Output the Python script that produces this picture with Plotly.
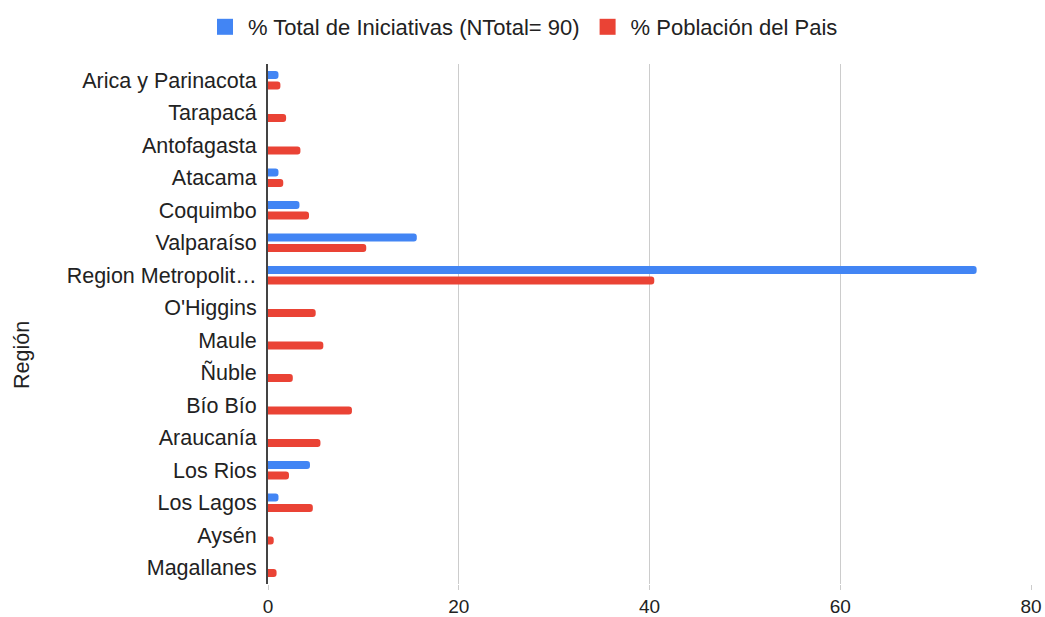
import plotly.graph_objects as go

regiones = ["Arica y Parinacota", "Tarapacá", "Antofagasta", "Atacama", "Coquimbo",
            "Valparaíso", "Region Metropolit…", "O'Higgins", "Maule", "Ñuble",
            "Bío Bío", "Araucanía", "Los Rios", "Los Lagos", "Aysén", "Magallanes"]
iniciativas = [1.1, 0, 0, 1.1, 3.3, 15.6, 74.3, 0, 0, 0, 0, 0, 4.4, 1.1, 0, 0]
poblacion = [1.3, 1.9, 3.4, 1.6, 4.3, 10.3, 40.5, 5.0, 5.8, 2.6, 8.8, 5.5, 2.2, 4.7, 0.6, 0.9]
x_ticks = [0, 20, 40, 60, 80]
series_names = ["% Total de Iniciativas (NTotal= 90)", "% Población del Pais"]

BLUE = "#4285F4"
RED = "#EA4335"
FS = 21.5

fig = go.Figure()
fig.add_trace(go.Bar(y=regiones, x=iniciativas, orientation="h",
                     name=series_names[0], showlegend=False,
                     marker=dict(color=BLUE, line=dict(width=0))))
fig.add_trace(go.Bar(y=regiones, x=poblacion, orientation="h",
                     name=series_names[1], showlegend=False,
                     marker=dict(color=RED, line=dict(width=0))))
# legend entries with larger square swatches
for nm, col in zip(series_names, [BLUE, RED]):
    fig.add_trace(go.Scatter(x=[None], y=[None], mode="markers", name=nm,
                             marker=dict(symbol="square", size=16, color=col),
                             hoverinfo="skip"))

fig.update_layout(
    width=1045, height=617,
    margin=dict(l=268, r=14, t=64, b=33),
    paper_bgcolor="white", plot_bgcolor="white",
    font=dict(family="Liberation Sans, Arial, sans-serif", size=FS, color="#222222"),
    barmode="group", bargap=0.35, bargroupgap=0.25, barcornerradius=4,
    showlegend=True,
    legend=dict(orientation="h", x=0.5, xanchor="center", xref="container",
                y=1 - 27 / 617, yanchor="middle", yref="container",
                itemsizing="trace", itemwidth=36,
                font=dict(size=22, color="#222222")),
    xaxis=dict(range=[0, 80], tickvals=x_ticks, showgrid=True, gridcolor="#cccccc",
               gridwidth=1, zeroline=False, showline=False, ticks="outside",
               ticklen=5, tickcolor="#cccccc", automargin=False,
               tickfont=dict(size=19, color="#222222")),
    yaxis=dict(categoryorder="array", categoryarray=regiones, autorange="reversed",
               showline=True, linecolor="#444444", linewidth=2, ticks="",
               showgrid=False, automargin=False, ticklabelstandoff=5,
               tickfont=dict(size=FS, color="#222222")),
    annotations=[dict(text="Región", textangle=-90, xref="paper", yref="paper",
                      x=-(268 - 22) / (1045 - 268 - 14), y=(584 - 355) / 520,
                      xanchor="center", yanchor="middle", showarrow=False,
                      font=dict(size=FS, color="#222222"))],
)

fig.write_html("out.html", config={"displayModeBar": False},
               post_script="document.body.style.margin='0';document.body.style.overflow='hidden';")
